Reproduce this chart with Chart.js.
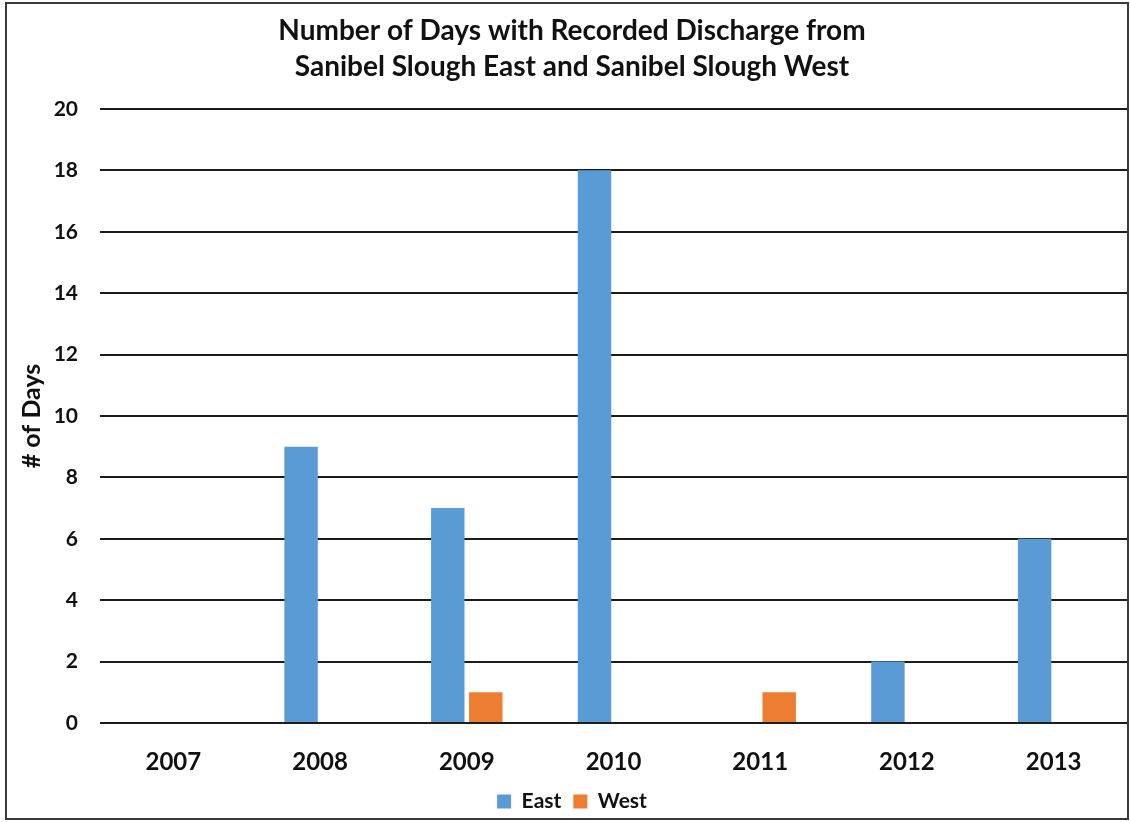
<!DOCTYPE html>
<html>
<head>
<meta charset="utf-8">
<script src="https://cdn.jsdelivr.net/npm/chart.js@4"></script>
<style>
  html, body { margin: 0; padding: 0; background: #fff; }
  #wrap { width: 1130px; height: 822px; }
</style>
</head>
<body>
<div id="wrap"><canvas id="c" width="1130" height="822"></canvas></div>
<script>
const years = ['2007', '2008', '2009', '2010', '2011', '2012', '2013'];
const eastDays = [0, 9, 7, 18, 0, 2, 6];
const westDays = [0, 0, 1, 0, 1, 0, 0];
const titleLines = ['Number of Days with Recorded Discharge from', 'Sanibel Slough East and Sanibel Slough West'];
const yAxisTitle = '# of Days';

const FONT = 'Lato, "Liberation Sans", sans-serif';

// outer frame around the whole figure
const framePlugin = {
  id: 'frame',
  beforeDraw(chart) {
    const ctx = chart.ctx;
    ctx.save();
    ctx.fillStyle = '#fff';
    ctx.fillRect(0, 0, chart.width, chart.height);
    ctx.restore();
  },
  afterDraw(chart) {
    const ctx = chart.ctx;
    ctx.save();
    ctx.strokeStyle = '#3a3a3a';
    ctx.lineWidth = 2;
    ctx.strokeRect(6, 3, 1122, 816);
    ctx.restore();
  }
};

new Chart(document.getElementById('c'), {
  type: 'bar',
  data: {
    labels: years,
    datasets: [
      { label: 'East', data: eastDays, backgroundColor: '#5B9BD5' },
      { label: 'West', data: westDays, backgroundColor: '#ED7D31' }
    ]
  },
  options: {
    responsive: false,
    animation: false,
    devicePixelRatio: 1,
    categoryPercentage: 0.518,
    barPercentage: 0.88,
    layout: { padding: { left: 17, right: 3, top: 0, bottom: 0 } },
    plugins: {
      title: {
        display: true,
        text: titleLines,
        color: '#111',
        font: { family: FONT, size: 28, weight: 'bold', lineHeight: 1.32 },
        padding: { top: 12, bottom: 23 }
      },
      legend: {
        position: 'bottom',
        labels: {
          color: '#111',
          font: { family: FONT, size: 21, weight: 'bold' },
          boxWidth: 14,
          boxHeight: 14,
          padding: 12
        }
      },
      tooltip: { enabled: false }
    },
    scales: {
      x: {
        grid: { display: false, drawTicks: false },
        border: { display: false },
        ticks: {
          color: '#111',
          font: { family: FONT, size: 24, weight: 'bold' },
          padding: 25
        },
        afterFit(scale) { scale.height = 56; }
      },
      y: {
        min: 0,
        max: 20,
        ticks: {
          stepSize: 2,
          color: '#111',
          font: { family: FONT, size: 21, weight: 'bold' },
          padding: 22
        },
        grid: { color: '#1c1c1c', lineWidth: 2, drawTicks: false },
        border: { display: false },
        title: {
          display: true,
          text: yAxisTitle,
          color: '#111',
          font: { family: FONT, size: 25, weight: 'bold' },
          padding: 0
        },
        afterFit(scale) { scale.width = 83; }
      }
    }
  },
  plugins: [framePlugin]
});
</script>
</body>
</html>
